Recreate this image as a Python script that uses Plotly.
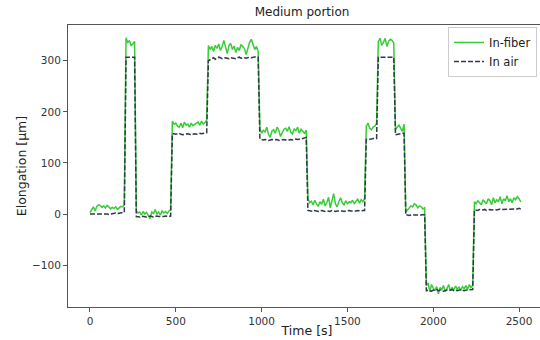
import plotly.graph_objects as go

# time grid, one sample every 10 s
time_s = list(range(0, 2520, 10))

# in-fiber elongation [um]
fiber = [
    # 0-200
    3, 8, 14, 6, 15, 18, 17, 13, 16, 12, 17, 14, 10, 13, 11, 14, 9, 12, 15, 14, 18,
    # 210-260
    345, 336, 339, 330, 333, 338,
    # 270-470
    6, 2, 4, -2, 5, 0, 3, -3, -9, 4, 1, 9, 0, 4, -2, 6, 2, 5, 1, 6, 8,
    # 480-680
    182, 176, 178, 172, 170, 178, 169, 180, 174, 176, 170, 178, 173, 175, 177, 180, 174, 182, 176, 179, 184,
    # 690-980
    330, 322, 328, 318, 330, 324, 333, 320, 328, 340, 326, 314, 330, 334, 322,
    329, 316, 326, 320, 332, 328, 324, 312, 326, 336, 342, 330, 322, 328, 318,
    # 990-1260
    168, 158, 164, 160, 170, 156, 150, 162, 165, 158, 170, 164, 152, 158,
    166, 168, 162, 171, 160, 157, 167, 163, 170, 158, 166, 162, 158, 164,
    # 1270-1600
    30, 22, 25, 18, 27, 20, 15, 24, 19, 29, 16, 22, 33, 12, 26, 40, 20,
    14, 24, 32, 22, 18, 26, 20, 24, 22, 27, 20, 25, 29, 21, 28, 24, 30,
    # 1610-1670
    172, 178, 168, 165, 170, 172, 178,
    # 1680-1770
    338, 344, 330, 336, 344, 328, 338, 342, 340, 335,
    # 1780-1830
    165, 170, 174, 168, 162, 176,
    # 1840-1950
    4, 8, 12, 16, 14, 20, 18, 12, 16, 14, 10, 12,
    # 1960-2230
    -140, -135, -152, -138, -145, -150, -142, -156, -144, -148, -140, -152, -146, -138,
    -150, -144, -148, -141, -147, -143, -150, -142, -146, -140, -148, -138, -144, -140,
    # 2240-2510
    24, 20, 26, 22, 18, 28, 24, 20, 30, 26, 18, 32, 22, 28,
    24, 34, 20, 30, 26, 36, 24, 30, 22, 32, 28, 34, 30, 24,
]

# in-air elongation [um]
air = [
    0, 0, 1, 0, 0, 0, 1, 1, 0, 1, 0, -1, 0, 1, 1, 2, 1, 2, 2, 3, 3,
    307, 307, 307, 307, 307, 307,
    -5, -5, -6, -4, -5, -5, -6, -5, -4, -5, -6, -5, -4, -5, -5, -6, -5, -4, -5, -5, -4,
    157, 157, 156, 157, 158, 156, 155, 156, 157, 157, 156, 155, 156, 157, 156, 157, 158, 157, 158, 158, 159,
    300, 302, 305, 306, 303, 305, 307, 306, 304, 305, 306, 305, 304, 306, 305,
    305, 304, 306, 307, 305, 306, 306, 305, 306, 307, 306, 307, 307, 308, 307,
    147, 146, 145, 146, 145, 144, 145, 146, 145, 145, 146, 144, 145, 146,
    146, 145, 144, 145, 146, 145, 146, 147, 146, 146, 147, 148, 149, 150,
    7, 6, 6, 5, 7, 6, 5, 6, 7, 6, 5, 6, 6, 5, 7, 6, 5,
    6, 6, 7, 6, 5, 6, 6, 7, 6, 6, 5, 6, 7, 6, 6, 7, 7,
    146, 146, 147, 147, 148, 148, 148,
    307, 307, 307, 307, 307, 307, 307, 307, 307, 307,
    155, 156, 157, 158, 158, 158,
    -2, -2, -3, -2, -1, -2, -2, -3, -2, -2, -1, -2,
    -150, -149, -150, -151, -149, -150, -148, -150, -149, -150, -151, -150, -149, -150,
    -149, -148, -150, -149, -150, -149, -148, -149, -150, -149, -149, -148, -149, -148,
    8, 8, 7, 9, 8, 8, 9, 7, 8, 9, 8, 9, 9, 8,
    9, 10, 9, 9, 10, 9, 10, 10, 9, 10, 10, 10, 11, 10,
]

x_ticks = [0, 500, 1000, 1500, 2000, 2500]
y_ticks = [-100, 0, 100, 200, 300]

fig = go.Figure()
fig.add_trace(go.Scatter(x=time_s, y=fiber, mode="lines", name="In-fiber",
                         line=dict(color="#38cc38", width=1.5)))
fig.add_trace(go.Scatter(x=time_s, y=air, mode="lines", name="In air",
                         line=dict(color="#2f3a48", width=1.5, dash="5px,2px")))

axis_common = dict(showgrid=False, zeroline=False, showline=True, linecolor="#555",
                   linewidth=1, ticks="outside", ticklen=4, tickcolor="#555",
                   tickfont=dict(size=10.5, color="#333"))

# the original axes run a little past the right edge of the picture,
# so the figure is drawn slightly wider than the 540px window and clipped
fig.update_layout(
    width=546, height=340,
    margin=dict(l=68, r=0, t=25, b=33),
    paper_bgcolor="white", plot_bgcolor="white",
    font=dict(family="DejaVu Sans", color="#222"),
    title=dict(text="Medium portion", x=(302 - 68) / 478, xref="paper", xanchor="center",
               y=0.965, yanchor="middle", font=dict(size=12, color="#222")),
    xaxis=dict(range=[-128, 2657], tickvals=x_ticks, mirror=True,
               title=dict(text="Time [s]", font=dict(size=12.5), standoff=0),
               **axis_common),
    yaxis=dict(range=[-182, 370], tickvals=y_ticks,
               title=dict(text="Elongation [µm]", font=dict(size=12.5), standoff=2),
               **axis_common),
    legend=dict(x=(537 - 68) / 478, y=0.993, xanchor="right", yanchor="top",
                bgcolor="rgba(255,255,255,0.8)", bordercolor="#ccc", borderwidth=1,
                font=dict(size=11.5, color="#222"), tracegroupgap=0),
    showlegend=True,
)

# page body has a default 8px margin; drop it so the figure sits at the window corner
fig.write_html("out.html", config={"displayModeBar": False},
               post_script="document.body.style.margin='0';document.body.style.overflow='hidden';")
